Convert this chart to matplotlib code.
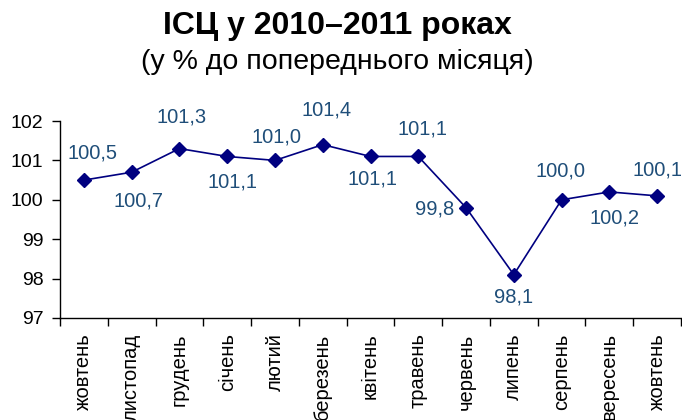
import matplotlib
matplotlib.use("Agg")
import matplotlib.pyplot as plt
import numpy as np

plt.rcParams['font.family'] = ['Liberation Sans', 'DejaVu Sans']

months = ["жовтень", "листопад", "грудень", "січень", "лютий", "березень",
          "квітень", "травень", "червень", "липень", "серпень", "вересень",
          "жовтень"]
cpi = [100.5, 100.7, 101.3, 101.1, 101.0, 101.4, 101.1, 101.1, 99.8, 98.1,
       100.0, 100.2, 100.1]
# label offsets in pixels (dx, dy) relative to each point
label_offsets = [(9, 27), (7, -29), (2, 32), (5, -26), (2, 23), (4, 35),
                 (2, -23), (4, 27), (-31, -1), (0, -22), (-1, 29), (5, -26),
                 (0, 26)]

fig = plt.figure(figsize=(6.82, 4.2), dpi=100)
ax = fig.add_axes([60 / 682, 1 - 318 / 420, 621 / 682, 197 / 420])

x = np.arange(len(cpi))
ax.plot(x, cpi, color="#000080", linewidth=1.2, marker="D", markersize=7,
        markerfacecolor="#000080", markeredgecolor="#000080")

for xi, v, (dx, dy) in zip(x, cpi, label_offsets):
    ax.annotate(f"{v:.1f}".replace(".", ","), (xi, v), xytext=(dx, dy),
                textcoords="offset pixels", ha="center", va="center",
                fontsize=14.5, color="#1F4E79")

ax.set_xlim(-0.5, len(cpi) - 0.5)
ax.set_ylim(97, 102)
ax.set_yticks([97, 98, 99, 100, 101, 102])
ax.tick_params(axis="y", labelsize=14, length=6, width=1, direction="out",
               pad=6)

ax.set_xticks(np.arange(len(cpi) + 1) - 0.5)
ax.set_xticklabels([])
ax.tick_params(axis="x", which="major", length=6, width=1, direction="out")
ax.set_xticks(x, minor=True)
ax.set_xticklabels(months, minor=True, rotation=90, fontsize=14.5, va="top")
ax.tick_params(axis="x", which="minor", length=0, pad=11)

for s in ["top", "right"]:
    ax.spines[s].set_visible(False)
for s in ["left", "bottom"]:
    ax.spines[s].set_color("black")
    ax.spines[s].set_linewidth(1)

fig.text(0.495, 1 - 26 / 420, "ІСЦ у 2010–2011 роках", ha="center",
         va="center", fontsize=23, fontweight="bold")
fig.text(0.495, 1 - 62 / 420, "(у % до попереднього місяця)", ha="center",
         va="center", fontsize=20.5)

fig.savefig("out.png", dpi=100)
